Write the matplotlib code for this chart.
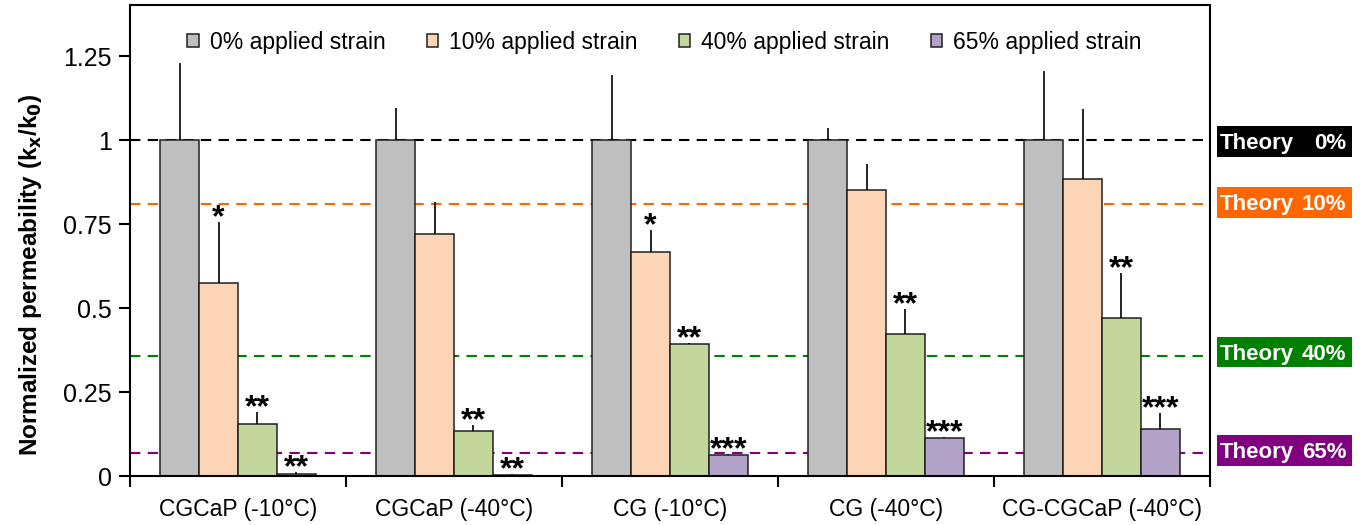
import matplotlib.pyplot as plt
from matplotlib.patches import Rectangle
import numpy as np

groups = ["CGCaP (-10°C)", "CGCaP (-40°C)", "CG (-10°C)", "CG (-40°C)", "CG-CGCaP (-40°C)"]
series = ["0% applied strain", "10% applied strain", "40% applied strain", "65% applied strain"]

# mean normalized permeability, one list per strain level
strain_0 = [1.0, 1.0, 1.0, 1.0, 1.0]
strain_10 = [0.575, 0.72, 0.667, 0.851, 0.884]
strain_40 = [0.155, 0.134, 0.393, 0.423, 0.47]
strain_65 = [0.007, 0.004, 0.0625, 0.113, 0.14]

# upper error (std) for each bar
err_0 = [0.229, 0.095, 0.193, 0.035, 0.205]
err_10 = [0.181, 0.095, 0.065, 0.078, 0.208]
err_40 = [0.035, 0.018, 0.003, 0.074, 0.134]
err_65 = [0.004, 0.002, 0.003, 0.004, 0.047]

# significance marks
sig_10 = ["*", "", "*", "", ""]
sig_40 = ["**", "**", "**", "**", "**"]
sig_65 = ["**", "**", "***", "***", "***"]

theory_pct = ["0%", "10%", "40%", "65%"]
theory_values = [1.0, 0.81, 0.357, 0.068]
theory_box_y = [0.997, 0.815, 0.369, 0.077]
theory_colors = ["black", "#FF6600", "#008000", "#800080"]

bar_colors = ["#BFBFBF", "#FBD5B5", "#C3D69B", "#B3A2C7"]

plt.rcParams['font.family'] = ['Liberation Sans', 'DejaVu Sans']

fig = plt.figure(figsize=(13.68, 5.25), dpi=100)
ax = fig.add_axes([0.095, 0.0933, 0.7895, 0.8972])

means = [strain_0, strain_10, strain_40, strain_65]
errs = [err_0, err_10, err_40, err_65]
sigs = [None, sig_10, sig_40, sig_65]

x = np.arange(len(groups))
w = 0.18
for i in range(4):
    pos = x + (i - 1.5) * w
    ax.bar(pos, means[i], w, color=bar_colors[i], edgecolor="#202020",
           linewidth=1.1, label=series[i], zorder=2)
    ax.errorbar(pos, means[i], yerr=[np.zeros(len(groups)), errs[i]], fmt="none",
                ecolor="black", elinewidth=1.2, capsize=0, zorder=3)
    if sigs[i] is not None:
        for p, m, e, s in zip(pos, means[i], errs[i], sigs[i]):
            if s:
                ax.annotate(s, (p, m + e), xytext=(0, -3), textcoords="offset points",
                            ha="center", va="baseline", fontsize=23,
                            fontweight="bold", zorder=4)

ytr = ax.get_yaxis_transform()
box_h = 0.092
for pct, val, by, col in zip(theory_pct, theory_values, theory_box_y, theory_colors):
    ax.axhline(val, color=col, linestyle=(0, (5, 3.5)), linewidth=1.5, zorder=1)
    ax.add_patch(Rectangle((1.0065, by - box_h / 2), 0.125, box_h, transform=ytr,
                           facecolor=col, edgecolor="none", clip_on=False))
    ax.text(1.0093, by, "Theory", transform=ytr, ha="left", va="center_baseline",
            color="white", fontsize=16, fontweight="bold", clip_on=False)
    ax.text(1.1265, by, pct, transform=ytr, ha="right", va="center_baseline",
            color="white", fontsize=16, fontweight="bold", clip_on=False)

ax.set_xlim(-0.5, len(groups) - 0.5)
ax.set_ylim(0, 1.402)
ax.set_yticks([0, 0.25, 0.5, 0.75, 1, 1.25])
ax.set_yticklabels(["0", "0.25", "0.5", "0.75", "1", "1.25"])
ax.set_xticks(x)
ax.set_xticklabels(groups)
ax.set_xticks(np.arange(len(groups) + 1) - 0.5, minor=True)
ax.tick_params(axis="x", which="major", length=0, pad=16, labelsize=16.5)
ax.tick_params(axis="x", which="minor", length=8, width=1.5, direction="out")
ax.tick_params(axis="y", length=8, width=1.5, labelsize=18, pad=5)
for sp in ax.spines.values():
    sp.set_linewidth(1.5)

ax.set_ylabel("Normalized permeability (k$_\\mathbf{x}$/k$_\\mathbf{0}$)",
              fontsize=17.5, fontweight="bold")
ax.yaxis.set_label_coords(-0.08, 0.427)

ax.legend(loc="center", bbox_to_anchor=(0.495, 0.921), ncol=4, frameon=False,
          fontsize=16.5, handlelength=0.5, handleheight=0.5, columnspacing=1.8,
          handletextpad=0.48, borderpad=0)

fig.savefig("out.png", dpi=100)
